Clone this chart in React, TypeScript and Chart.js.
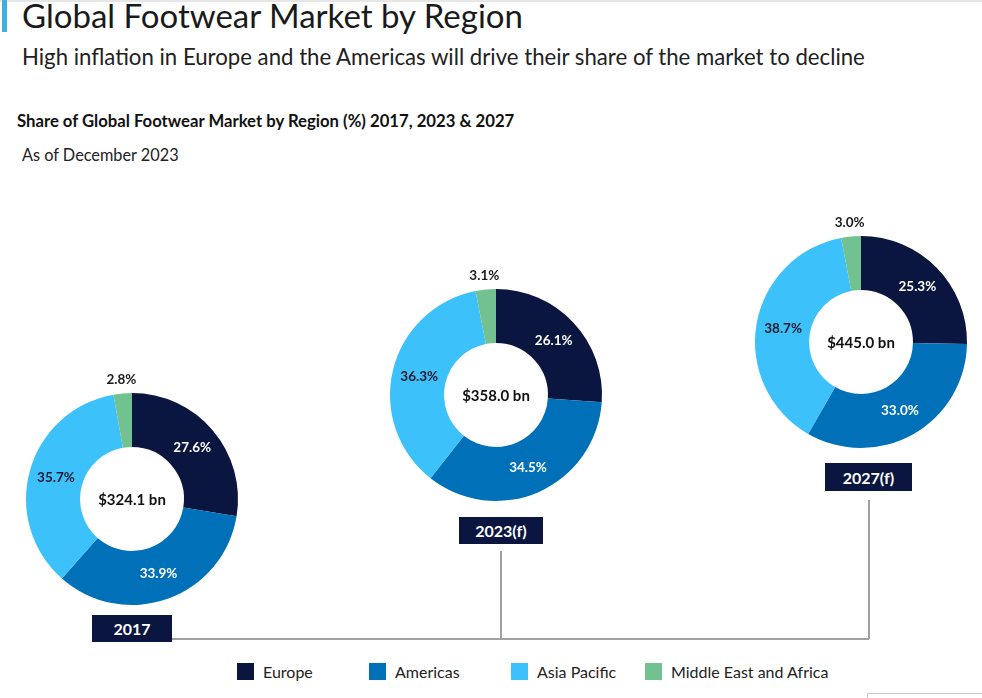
import React, { useEffect, useRef } from "react";
import { Chart, registerables } from "chart.js";

Chart.register(...registerables);

const regions = ["Europe", "Americas", "Asia Pacific", "Middle East and Africa"];
const regionColors = ["#0b1640", "#0070b8", "#3dc1fb", "#72c190"];
const labelColors = ["#ffffff", "#ffffff", "#1a1a2e", "#1a1a1a"];
const years = ["2017", "2023(f)", "2027(f)"];
const totals = ["$324.1 bn", "$358.0 bn", "$445.0 bn"];
const share2017 = [27.6, 33.9, 35.7, 2.8];
const share2023 = [26.1, 34.5, 36.3, 3.1];
const share2027 = [25.3, 33.0, 38.7, 3.0];
const shares = [share2017, share2023, share2027];

const FONT = "Lato, 'Open Sans', sans-serif";

const SIZE = 300;
const PAD = 44;
const donutCenters = [
  { x: 132, y: 499 },
  { x: 496, y: 395 },
  { x: 861, y: 342 },
];
const yearBoxes = [
  { x: 92, y: 615, w: 80, h: 27 },
  { x: 459, y: 517, w: 84, h: 27 },
  { x: 825, y: 463, w: 87, h: 28 },
];

const labelPlugin = {
  id: "donutLabels",
  afterDatasetsDraw(chart: any) {
    const ctx = chart.ctx;
    const meta = chart.getDatasetMeta(0);
    const data = chart.data.datasets[0].data;
    ctx.save();
    ctx.textAlign = "center";
    ctx.textBaseline = "middle";
    ctx.font = `bold 13.5px ${FONT}`;
    meta.data.forEach((arc: any, i: number) => {
      const p = arc.getProps(["x", "y", "startAngle", "endAngle", "innerRadius", "outerRadius"], true);
      const mid = (p.startAngle + p.endAngle) / 2;
      const r = i === 3 ? p.outerRadius + 14 : (p.innerRadius + p.outerRadius) / 2;
      ctx.fillStyle = labelColors[i];
      ctx.fillText(data[i].toFixed(1) + "%", p.x + Math.cos(mid) * r, p.y + Math.sin(mid) * r);
    });
    const c = meta.data[0];
    ctx.font = `bold 15px ${FONT}`;
    ctx.fillStyle = "#111111";
    ctx.fillText(chart.options.plugins.centerText, c.x, c.y + 1);
    ctx.restore();
  },
};

function Donut({ idx }: { idx: number }) {
  const ref = useRef<HTMLCanvasElement>(null);
  useEffect(() => {
    const chart = new Chart(ref.current!, {
      type: "doughnut",
      data: {
        labels: regions,
        datasets: [
          {
            data: shares[idx],
            backgroundColor: regionColors,
            borderWidth: 0,
          },
        ],
      },
      options: {
        animation: false,
        responsive: false,
        cutout: "49%",
        layout: { padding: PAD },
        plugins: {
          legend: { display: false },
          tooltip: { enabled: false },
          centerText: totals[idx],
        } as any,
      },
      plugins: [labelPlugin],
    });
    return () => chart.destroy();
  }, [idx]);
  const c = donutCenters[idx];
  return (
    <canvas
      ref={ref}
      width={SIZE}
      height={SIZE}
      style={{ position: "absolute", left: c.x - SIZE / 2, top: c.y - SIZE / 2, width: SIZE, height: SIZE }}
    />
  );
}

export default function App() {
  const legendX = [237, 369, 511, 645];
  return (
    <div
      style={{
        position: "absolute",
        left: 0,
        top: 0,
        width: 982,
        height: 698,
        background: "#ffffff",
        overflow: "hidden",
        fontFamily: FONT,
        color: "#1a1a1a",
      }}
    >
      <div style={{ position: "absolute", left: 0, top: 0, width: 982, height: 2, background: "#e6e6e6" }} />
      <div style={{ position: "absolute", left: 2, top: 0, width: 5, height: 32, background: "#3fb0e0" }} />
      <div style={{ position: "absolute", left: 22, top: -5, fontSize: 33, lineHeight: "40px", whiteSpace: "nowrap" }}>
        Global Footwear Market by Region
      </div>
      <div style={{ position: "absolute", left: 22, top: 43, fontSize: 22.2, lineHeight: "28px", whiteSpace: "nowrap", color: "#222" }}>
        High inflation in Europe and the Americas will drive their share of the market to decline
      </div>
      <div style={{ position: "absolute", left: 17, top: 110, fontSize: 16.7, fontWeight: 700, lineHeight: "22px", whiteSpace: "nowrap", color: "#111" }}>
        Share of Global Footwear Market by Region (%) 2017, 2023 &amp; 2027
      </div>
      <div style={{ position: "absolute", left: 22, top: 144, fontSize: 16.3, lineHeight: "22px", whiteSpace: "nowrap", color: "#222" }}>
        As of December 2023
      </div>

      {/* connector lines */}
      <div style={{ position: "absolute", left: 172, top: 638, width: 697, height: 1.5, background: "#a0a0a0" }} />
      <div style={{ position: "absolute", left: 500, top: 551, width: 1.5, height: 88, background: "#a0a0a0" }} />
      <div style={{ position: "absolute", left: 868, top: 500, width: 1.5, height: 139, background: "#a0a0a0" }} />

      {[0, 1, 2].map((i) => (
        <Donut key={i} idx={i} />
      ))}

      {yearBoxes.map((b, i) => (
        <div
          key={i}
          style={{
            position: "absolute",
            left: b.x,
            top: b.y,
            width: b.w,
            height: b.h,
            background: "#0b1640",
            color: "#fff",
            fontWeight: 700,
            fontSize: 16,
            display: "flex",
            alignItems: "center",
            justifyContent: "center",
          }}
        >
          {years[i]}
        </div>
      ))}

      {regions.map((r, i) => (
        <div key={r} style={{ position: "absolute", left: legendX[i], top: 663, display: "flex", alignItems: "center", whiteSpace: "nowrap" }}>
          <div style={{ width: 17, height: 17, background: regionColors[i], marginRight: 9 }} />
          <span style={{ fontSize: 16, color: "#222", lineHeight: "17px" }}>{r}</span>
        </div>
      ))}

      <div style={{ position: "absolute", left: 867, top: 693, width: 120, height: 10, borderTop: "1px solid #c8c8c8", borderLeft: "1px solid #c8c8c8" }} />
    </div>
  );
}
